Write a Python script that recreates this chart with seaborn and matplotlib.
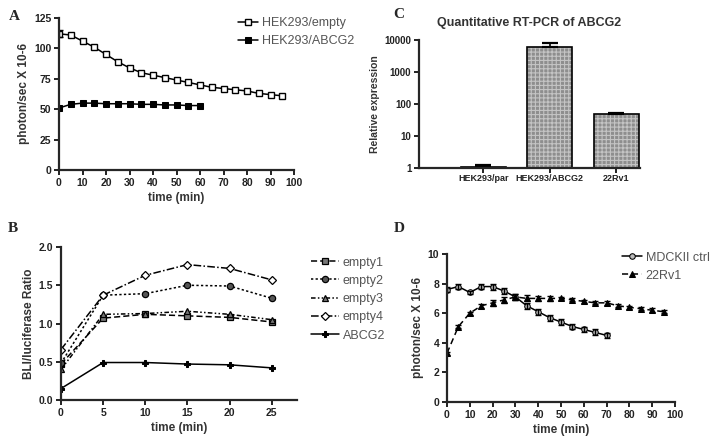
import numpy as np
import pandas as pd
import matplotlib
matplotlib.use("Agg")
import matplotlib.pyplot as plt
from matplotlib.colors import to_rgba
import seaborn as sns

# ---- data ----
# panel A
time_a_empty = list(range(0, 100, 5))
hek_empty = [112, 111, 106, 101, 95, 89, 84, 80, 78, 76, 74, 72, 70, 68, 67, 66, 65, 63, 62, 61]
time_a_abcg2 = list(range(0, 65, 5))
hek_abcg2 = [51, 54, 55, 55, 54.5, 54.5, 54.5, 54, 54, 53.5, 53.5, 53, 53]

# panel B
time_b = [0, 5, 10, 15, 20, 25]
empty1 = [0.47, 1.07, 1.12, 1.10, 1.08, 1.02]
empty2 = [0.48, 1.37, 1.39, 1.50, 1.49, 1.33]
empty3 = [0.40, 1.12, 1.13, 1.16, 1.12, 1.05]
empty4 = [0.66, 1.37, 1.63, 1.77, 1.72, 1.57]
abcg2_b = [0.15, 0.49, 0.49, 0.47, 0.46, 0.42]

# panel C
cells_c = ["HEK293/par", "HEK293/ABCG2", "22Rv1"]
expr_c = [1.1, 6000, 48]
expr_err = [0.1, 2000, 4]

# panel D
time_d_mdck = list(range(0, 75, 5))
mdck = [7.6, 7.8, 7.4, 7.8, 7.8, 7.5, 7.1, 6.5, 6.1, 5.7, 5.4, 5.1, 4.9, 4.7, 4.5]
mdck_err = [0.2, 0.15, 0.1, 0.15, 0.2, 0.2, 0.2, 0.2, 0.2, 0.2, 0.2, 0.15, 0.15, 0.2, 0.15]
time_d_22rv1 = list(range(0, 100, 5))
rv1 = [3.3, 5.1, 6.0, 6.5, 6.7, 6.9, 7.1, 7.0, 7.0, 7.0, 7.0, 6.9, 6.8, 6.7, 6.7, 6.5, 6.4, 6.3, 6.2, 6.1]
rv1_err = [0.1, 0.1, 0.1, 0.15, 0.2, 0.2, 0.2, 0.2, 0.15, 0.15, 0.1, 0.1, 0.1, 0.1, 0.15, 0.1, 0.1, 0.1, 0.15, 0.1]

sns.set_style("ticks")
plt.rcParams["font.family"] = ["Liberation Sans", "DejaVu Sans"]
plt.rcParams["axes.linewidth"] = 1.6
plt.rcParams["xtick.major.width"] = 1.4
plt.rcParams["ytick.major.width"] = 1.4
plt.rcParams["xtick.major.size"] = 3.5
plt.rcParams["ytick.major.size"] = 3.5
plt.rcParams["hatch.linewidth"] = 0.8

W, H = 714, 447
fig = plt.figure(figsize=(W / 100, H / 100), dpi=100)


def box(l, t, r, b):
    return [l / W, 1 - b / H, (r - l) / W, (b - t) / H]


def style_ax(ax, xlabel, ylabel):
    sns.despine(ax=ax)
    ax.set_xlabel(xlabel, fontsize=8.5, fontweight="bold", color="#333333", labelpad=3)
    ax.set_ylabel(ylabel, fontsize=8.5, fontweight="bold", color="#333333", labelpad=3)
    ax.tick_params(labelsize=7.5, colors="#222222", pad=2)
    for lab in ax.get_xticklabels() + ax.get_yticklabels():
        lab.set_fontweight("bold")


def legend(ax, loc, anchor, hl=1.6):
    lg = ax.legend(loc=loc, bbox_to_anchor=anchor, frameon=False, fontsize=9,
                   handlelength=hl, handletextpad=0.3, labelspacing=0.5,
                   borderaxespad=0)
    for t in lg.get_texts():
        t.set_color("#555555")
    return lg


# ---- panel A ----
axA = fig.add_axes(box(59, 18, 294, 170))
sns.lineplot(x=time_a_empty, y=hek_empty, ax=axA, color="black", lw=1.1,
             marker="s", markersize=5, markerfacecolor="white", markeredgecolor="black",
             markeredgewidth=1, label="HEK293/empty")
sns.lineplot(x=time_a_abcg2, y=hek_abcg2, ax=axA, color="black", lw=1.1,
             marker="s", markersize=5, markerfacecolor="black", markeredgecolor="black",
             label="HEK293/ABCG2")
axA.errorbar([0], [hek_empty[0]], yerr=[3], color="black", capsize=3, lw=1)
axA.set_xlim(0, 100)
axA.set_ylim(0, 125)
axA.set_xticks(range(0, 101, 10))
axA.set_yticks(range(0, 126, 25))
style_ax(axA, "time (min)", "photon/sec X 10-6")
legend(axA, "upper left", (0.74, 1.04))

# ---- panel B ----
axB = fig.add_axes(box(61, 247, 297, 400))
b_series = [
    ("empty1", empty1, (0, (4, 2)), "s", "#777777"),
    ("empty2", empty2, (0, (1.5, 1.5)), "o", "#555555"),
    ("empty3", empty3, (0, (3, 1.5, 1, 1.5, 1, 1.5)), "^", "#777777"),
    ("empty4", empty4, (0, (5, 1.5, 1, 1.5)), "D", "white"),
]
for name, vals, ls, mk, fc in b_series:
    sns.lineplot(x=time_b, y=vals, ax=axB, color="black", lw=1.1, linestyle=ls,
                 marker=mk, markersize=4.5 if mk != "D" else 3.8, markerfacecolor=fc,
                 markeredgecolor="black", markeredgewidth=0.9, label=name)
sns.lineplot(x=time_b, y=abcg2_b, ax=axB, color="black", lw=1.1, marker="P",
             markersize=4, markerfacecolor="black", markeredgecolor="black", label="ABCG2")
axB.set_xlim(0, 28)
axB.set_ylim(0, 2.0)
axB.set_xticks(time_b)
axB.set_yticks([0.0, 0.5, 1.0, 1.5, 2.0])
axB.set_yticklabels(["0.0", "0.5", "1.0", "1.5", "2.0"])
style_ax(axB, "time (min)", "BLI/luciferase Ratio")
legend(axB, "upper left", (1.04, 0.97), hl=2.2)

# ---- panel C ----
axC = fig.add_axes(box(419, 40, 640, 168))
dfc = pd.DataFrame({"cell": cells_c, "expr": expr_c})
sns.barplot(data=dfc, x="cell", y="expr", ax=axC, color="#8e8e8e", width=0.68,
            edgecolor="black", linewidth=1.2, errorbar=None, log_scale=(False, True))
for p in axC.patches:
    p.set_hatch("++++")
    p._hatch_color = to_rgba("#c4c4c4")
axC.errorbar(range(len(cells_c)), expr_c, yerr=[[0] * 3, expr_err], fmt="none",
             ecolor="black", capsize=6, lw=1.2, capthick=1.6)
axC.set_yscale("log")
axC.set_ylim(1, 10000)
axC.set_xlim(-0.97, 2.36)
axC.set_yticks([1, 10, 100, 1000, 10000])
axC.set_yticklabels(["1", "10", "100", "1000", "10000"])
axC.minorticks_off()
axC.set_title("Quantitative RT-PCR of ABCG2", fontsize=9, fontweight="bold",
              color="#333333", pad=10)
style_ax(axC, "", "Relative expression")
axC.yaxis.label.set_fontsize(7.5)
axC.tick_params(axis="x", labelsize=6.5, pad=1)
axC.tick_params(axis="y", labelsize=7)

# ---- panel D ----
axD = fig.add_axes(box(447, 254, 675, 402))
sns.lineplot(x=time_d_mdck, y=mdck, ax=axD, color="black", lw=1.1, marker="o",
             markersize=4, markerfacecolor="#bbbbbb", markeredgecolor="black",
             label="MDCKII ctrl")
sns.lineplot(x=time_d_22rv1, y=rv1, ax=axD, color="black", lw=1.1, linestyle=(0, (4, 2.5)),
             marker="^", markersize=4, markerfacecolor="black", markeredgecolor="black",
             label="22Rv1")
axD.errorbar(time_d_mdck, mdck, yerr=mdck_err, fmt="none", ecolor="black",
             capsize=2.5, elinewidth=1)
axD.errorbar(time_d_22rv1, rv1, yerr=rv1_err, fmt="none", ecolor="black",
             capsize=2.5, elinewidth=1)
axD.set_xlim(0, 100)
axD.set_ylim(0, 10)
axD.set_xticks(range(0, 101, 10))
axD.set_yticks(range(0, 11, 2))
style_ax(axD, "time (min)", "photon/sec X 10-6")
legend(axD, "upper left", (0.745, 1.05))

# ---- panel letters ----
for letter, x, y in [("A", 14, 16), ("B", 13, 228), ("C", 399, 15), ("D", 399, 229)]:
    fig.text(x / W, 1 - y / H, letter, fontsize=11, fontweight="bold",
             family="Liberation Serif", ha="center", va="center")

fig.savefig("out.png", dpi=100)
